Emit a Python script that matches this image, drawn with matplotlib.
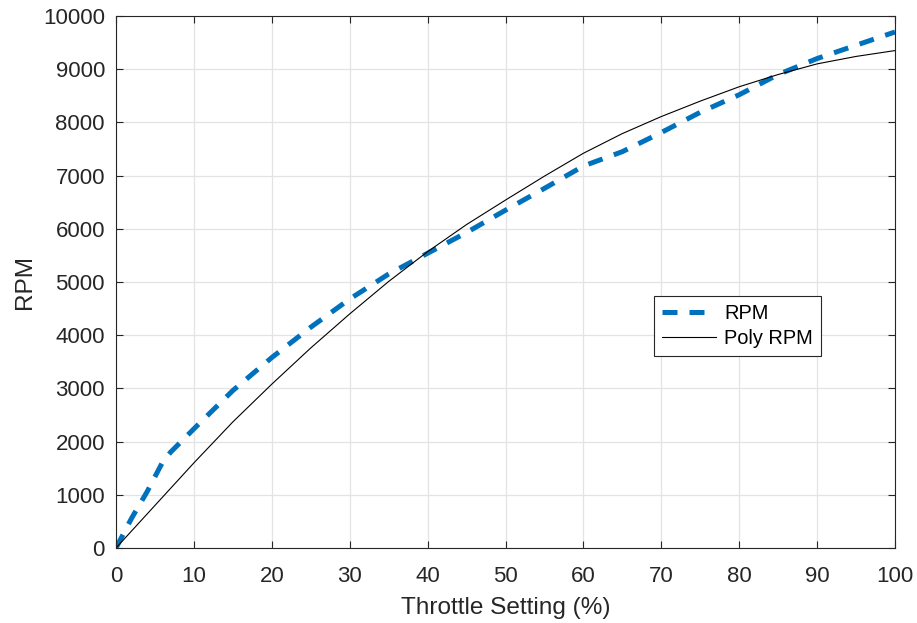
import matplotlib.pyplot as plt

# Dados
throttle_rpm = [0, 2, 4, 6, 7, 10, 12.5, 15, 20, 25, 30, 35, 40, 45, 50, 55, 60,
                65, 70, 75, 80, 85, 90, 95, 100]
rpm = [0, 560, 1060, 1620, 1800, 2240, 2600, 2960, 3580, 4150, 4680, 5150, 5540,
       5930, 6350, 6760, 7180, 7450, 7810, 8190, 8520, 8900, 9200, 9450, 9700]

throttle_poly = [0, 5, 10, 15, 20, 25, 30, 35, 40, 45, 50, 55, 60, 65, 70, 75,
                 80, 85, 90, 95, 100]
poly_rpm = [0, 800, 1600, 2370, 3080, 3760, 4400, 5010, 5570, 6080, 6540, 6990,
            7420, 7790, 8110, 8400, 8670, 8900, 9100, 9240, 9350]

xticks = list(range(0, 101, 10))
yticks = list(range(0, 10001, 1000))

plt.rcParams['font.family'] = ['Liberation Sans', 'DejaVu Sans']

fig = plt.figure(figsize=(9.17, 6.23), dpi=100)
ax = fig.add_axes([116 / 917, 75 / 623, 779 / 917, 532 / 623])

ax.plot(throttle_rpm, rpm, color='#0072BD', linewidth=3.6, dashes=(3.0, 2.4),
        label='RPM')
ax.plot(throttle_poly, poly_rpm, color='black', linewidth=0.8, label='Poly RPM')

ax.set_xlim(0, 100)
ax.set_ylim(0, 10000)
ax.set_xticks(xticks)
ax.set_yticks(yticks)
ax.tick_params(direction='in', top=True, right=True, labelsize=16,
               color='#262626', labelcolor='#262626', length=5, width=0.8)
ax.tick_params(axis='x', pad=13)
ax.tick_params(axis='y', pad=8)
for s in ax.spines.values():
    s.set_color('#262626')
    s.set_linewidth(0.8)

ax.grid(True, color='#e3e3e3', linewidth=0.9)
ax.set_axisbelow(True)

ax.set_xlabel('Throttle Setting (%)', fontsize=17.6, color='#262626', labelpad=7)
ax.set_ylabel('RPM', fontsize=17.6, color='#262626', labelpad=5)

leg = ax.legend(loc='lower left', bbox_to_anchor=(0.6906, 0.361), fontsize=14.4,
                frameon=True, fancybox=False, handlelength=2.7,
                borderpad=0.4, labelspacing=0.3, handletextpad=0.4,
                borderaxespad=0)
leg.get_frame().set_edgecolor('#262626')
leg.get_frame().set_linewidth(0.8)
leg.get_frame().set_alpha(1)

fig.savefig('out.png', dpi=100)
